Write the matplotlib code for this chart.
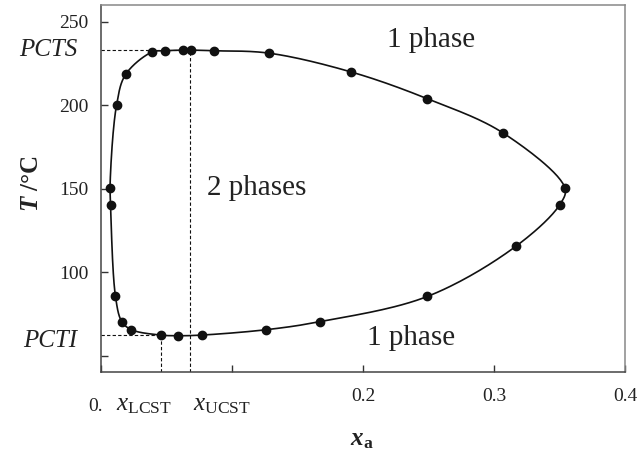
import numpy as np
import matplotlib
matplotlib.use('Agg')
import matplotlib.pyplot as plt
from matplotlib.transforms import blended_transform_factory

plt.rcParams['font.family'] = ['Liberation Serif', 'DejaVu Serif']
plt.rcParams['mathtext.fontset'] = 'custom'
plt.rcParams['mathtext.rm'] = 'Liberation Serif'
plt.rcParams['mathtext.it'] = 'Liberation Serif:italic'
plt.rcParams['mathtext.bf'] = 'Liberation Serif:bold:italic'
plt.rcParams['mathtext.sf'] = 'Liberation Serif:bold'

# measured points around the closed coexistence curve (x_a, T / degC)
x_pts = [0.007, 0.012, 0.019, 0.039, 0.049, 0.063, 0.069, 0.086, 0.128, 0.191,
         0.249, 0.307, 0.354, 0.350, 0.3165, 0.249, 0.167, 0.126, 0.077, 0.0585,
         0.0456, 0.0234, 0.016, 0.0112, 0.0074]
T_pts = [150.4, 200.0, 218.5, 231.8, 232.6, 233.0, 233.0, 232.6, 231.2, 219.9,
         203.9, 183.3, 150.4, 140.4, 115.5, 85.5, 70.4, 65.6, 62.4, 62.0,
         62.4, 65.6, 70.5, 85.5, 140.4]

PCTS = 233.0
PCTI = 62.4
x_UCST = 0.068
x_LCST = 0.0456

xlim = (0, 0.4)
ylim = (40.4, 260)


def catmull_rom_closed(xs, ys, n=30, alpha=0.5):
    # centripetal catmull-rom through the points, in normalised units
    P = np.column_stack([(np.array(xs) - xlim[0]) / (xlim[1] - xlim[0]),
                         (np.array(ys) - ylim[0]) / (ylim[1] - ylim[0]) * 0.7])
    m = len(P)
    out = []
    for i in range(m):
        P0, P1, P2, P3 = P[(i - 1) % m], P[i], P[(i + 1) % m], P[(i + 2) % m]
        t0 = 0.0
        t1 = t0 + np.linalg.norm(P1 - P0) ** alpha
        t2 = t1 + np.linalg.norm(P2 - P1) ** alpha
        t3 = t2 + np.linalg.norm(P3 - P2) ** alpha
        t = np.linspace(t1, t2, n)[:, None]
        A1 = (t1 - t) / (t1 - t0) * P0 + (t - t0) / (t1 - t0) * P1
        A2 = (t2 - t) / (t2 - t1) * P1 + (t - t1) / (t2 - t1) * P2
        A3 = (t3 - t) / (t3 - t2) * P2 + (t - t2) / (t3 - t2) * P3
        B1 = (t2 - t) / (t2 - t0) * A1 + (t - t0) / (t2 - t0) * A2
        B2 = (t3 - t) / (t3 - t1) * A2 + (t - t1) / (t3 - t1) * A3
        C = (t2 - t) / (t2 - t1) * B1 + (t - t1) / (t2 - t1) * B2
        out.append(C)
    C = np.vstack(out)
    cx = C[:, 0] * (xlim[1] - xlim[0]) + xlim[0]
    cy = C[:, 1] / 0.7 * (ylim[1] - ylim[0]) + ylim[0]
    return cx, cy


fig = plt.figure(figsize=(6.38, 4.54), dpi=100)
ax = fig.add_axes([0.158, 0.181, 0.822, 0.808])

cx, cy = catmull_rom_closed(x_pts, T_pts)
ax.plot(cx, cy, color='#111111', lw=1.2, zorder=3)
ax.plot(x_pts, T_pts, 'o', color='#111111', ms=6, zorder=4)

dash = dict(color='#111111', lw=0.8, ls=(0, (3, 2)), zorder=2)
ax.plot([0, x_UCST], [PCTS, PCTS], **dash)
ax.plot([x_UCST, x_UCST], [ylim[0], PCTS], **dash)
ax.plot([0, x_LCST], [PCTI, PCTI], **dash)
ax.plot([x_LCST, x_LCST], [ylim[0], PCTI], **dash)

ax.set_xlim(*xlim)
ax.set_ylim(*ylim)
ax.set_xticks([0, 0.1, 0.2, 0.3, 0.4])
ax.set_xticklabels(['', '', '0.2', '0.3', '0.4'])
ax.set_yticks([50, 100, 150, 200, 250])
ax.set_yticklabels(['', '100', '150', '200', '250'])
ax.tick_params(direction='in', length=5, width=1, labelsize=14,
               labelcolor='#222222', color='#333333')
ax.tick_params(axis='x', pad=12)
ax.tick_params(axis='y', pad=9)

for side in ['left', 'bottom']:
    ax.spines[side].set_color('#444444')
    ax.spines[side].set_linewidth(1.1)
for side in ['top', 'right']:
    ax.spines[side].set_color('#888888')
    ax.spines[side].set_linewidth(1.1)

yt = blended_transform_factory(ax.transAxes, ax.transData)
ax.text(-0.044, PCTS, 'PCTS', transform=yt, ha='right', va='center',
        fontsize=18, style='italic', color='#222222')
ax.text(-0.044, PCTI - 3.5, 'PCTI', transform=yt, ha='right', va='center',
        fontsize=18, style='italic', color='#222222')

xt = blended_transform_factory(ax.transData, ax.transAxes)
ax.text(0.0015, -0.07, '0.', transform=xt, ha='right', va='top',
        fontsize=14, color='#222222')
ax.text(0.0332, -0.06, r'$x_{\mathrm{LCST}}$', transform=xt, ha='center',
        va='top', fontsize=18, color='#222222')
ax.text(0.0924, -0.06, r'$x_{\mathrm{UCST}}$', transform=xt, ha='center',
        va='top', fontsize=18, color='#222222')

ax.text(0.252, 235, '1 phase', ha='center', va='baseline', fontsize=21,
        color='#222222')
ax.text(0.2366, 56.6, '1 phase', ha='center', va='baseline', fontsize=21,
        color='#222222')
ax.text(0.119, 146.4, '2 phases', ha='center', va='baseline', fontsize=21,
        color='#222222')

fig.text(32 / 638, 1 - 184 / 454, r'$\mathbf{T}\ \mathsf{/°C}$', rotation=90,
         ha='center', va='center', fontsize=18, color='#222222')
fig.text(362 / 638, 1 - 440 / 454, r'$\mathbf{x}_{\mathsf{a}}$', ha='center',
         va='center', fontsize=18, color='#222222')

fig.savefig('out.png', dpi=100)
